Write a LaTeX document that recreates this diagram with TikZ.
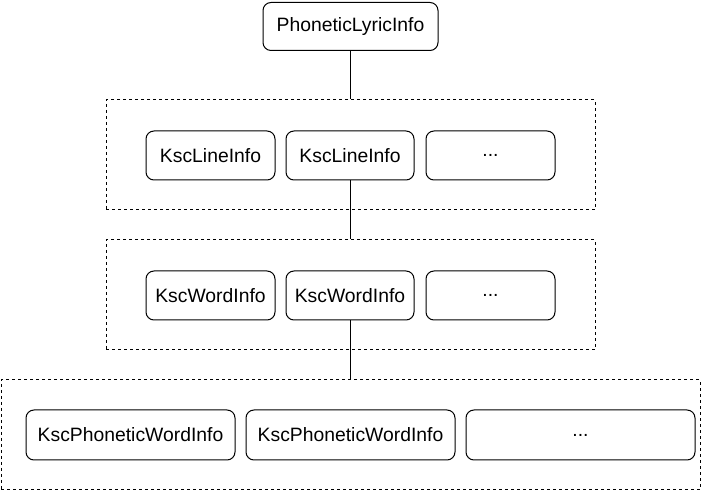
\documentclass[tikz,border=0pt]{standalone}
\usepackage{fontspec}
\setmainfont{Liberation Sans}
\begin{document}
\begin{tikzpicture}[x=0.75pt,y=-0.75pt,
  box/.style={draw=black,line width=0.75pt,rounded corners=6pt,fill=white,inner sep=0pt,
    minimum height=36.75pt,font=\fontsize{14.5}{17}\selectfont},
  group/.style={draw=black,line width=0.75pt,dash pattern=on 2.25pt off 2.25pt,inner sep=0pt,minimum height=82.5pt},
  link/.style={draw=black,line width=0.75pt}]
\useasboundingbox (0,0) rectangle (701,491);
% groups
\node[group,minimum width=366.75pt] (g1) at (350.5,155) {};
\node[group,minimum width=366.75pt] (g2) at (350.5,295) {};
\node[group,minimum width=524.25pt] (g3) at (350.5,435) {};
% top
\node[box,minimum width=131.25pt,minimum height=36pt] (top) at (350.5,26.5) {PhoneticLyricInfo};
% row 1
\node[box,minimum width=96.75pt] (l1) at (210.5,155.5) {KscLineInfo};
\node[box,minimum width=96pt] (l2) at (350,155.5) {KscLineInfo};
\node[box,minimum width=96.75pt] (l3) at (490.5,155.5) {...};
% row 2
\node[box,minimum width=96.75pt] (w1) at (210.5,295.5) {KscWordInfo};
\node[box,minimum width=96pt] (w2) at (350,295.5) {KscWordInfo};
\node[box,minimum width=96.75pt] (w3) at (490.5,295.5) {...};
% row 3
\node[box,minimum width=156.75pt,minimum height=37.5pt] (p1) at (130.5,435) {KscPhoneticWordInfo};
\node[box,minimum width=156.75pt,minimum height=37.5pt] (p2) at (350.5,435) {KscPhoneticWordInfo};
\node[box,minimum width=171.75pt,minimum height=37.5pt] (p3) at (580.5,435) {...};
% connectors
\draw[link] (top.south) -- (top.south |- g1.north);
\draw[link] (l2.south) -- (l2.south |- g2.north);
\draw[link] (w2.south) -- (w2.south |- g3.north);
\end{tikzpicture}
\end{document}
